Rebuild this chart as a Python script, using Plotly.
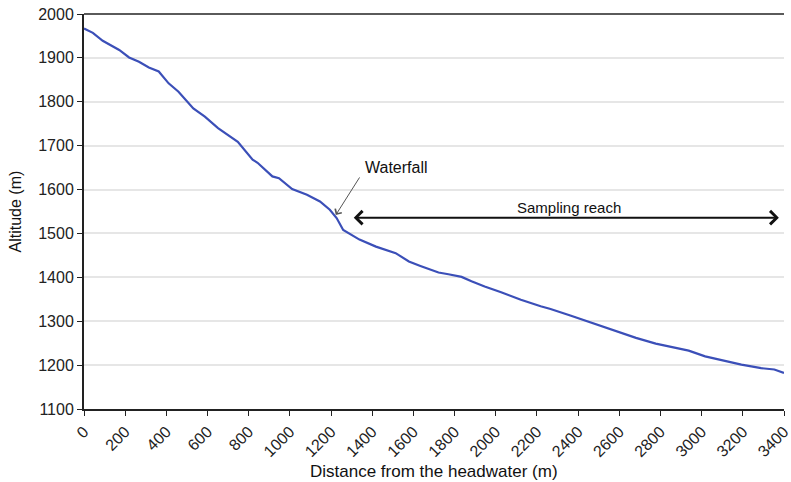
import plotly.graph_objects as go

distance = [0, 43, 91, 131, 171, 219, 267, 315, 363, 411, 459, 531, 587, 651, 747, 819, 843,
            915, 947, 1011, 1083, 1146, 1194, 1227, 1259, 1338, 1418, 1514, 1578, 1634, 1674,
            1722, 1770, 1834, 1882, 1946, 2026, 2122, 2218, 2266, 2362, 2426, 2489, 2585, 2681,
            2777, 2873, 2937, 3017, 3097, 3193, 3289, 3353, 3400]
altitude = [1967, 1957, 1939, 1929, 1918, 1901, 1891, 1878, 1869, 1842, 1823, 1785, 1766, 1740,
            1709, 1668, 1661, 1630, 1626, 1601, 1588, 1573, 1554, 1535, 1508, 1486, 1470, 1455,
            1436, 1426, 1419, 1411, 1407, 1401, 1391, 1379, 1366, 1349, 1334, 1328, 1313, 1303,
            1292, 1277, 1262, 1249, 1239, 1233, 1220, 1211, 1201, 1193, 1190, 1182]

x_ticks = list(range(0, 3401, 200))
y_ticks = list(range(1100, 2001, 100))

waterfall_label = "Waterfall"
reach_label = "Sampling reach"
x_title = "Distance from the headwater (m)"
y_title = "Altitude (m)"
waterfall_head = (1223, 1542)
waterfall_tail = (1343, 1631)
waterfall_text = (1518, 1650)
reach_start, reach_end, reach_alt = 1303, 3375, 1536
reach_text = (2355, 1559)

font_family = "Liberation Sans, Arial, sans-serif"

fig = go.Figure()
fig.add_trace(go.Scatter(x=distance, y=altitude, mode="lines",
                         line=dict(color="#3b4fb8", width=2.2), showlegend=False,
                         hoverinfo="skip"))

fig.add_annotation(x=waterfall_head[0], y=waterfall_head[1], ax=waterfall_tail[0],
                   ay=waterfall_tail[1], axref="x", ayref="y", xref="x", yref="y",
                   showarrow=True, arrowhead=4, arrowsize=1.5, arrowwidth=1,
                   arrowcolor="#555555", text="")
fig.add_annotation(x=waterfall_text[0], y=waterfall_text[1], text=waterfall_label,
                   showarrow=False, font=dict(size=16, color="#111111"))

fig.add_annotation(x=reach_end, y=reach_alt, ax=reach_start, ay=reach_alt,
                   axref="x", ayref="y", xref="x", yref="y", showarrow=True,
                   arrowhead=4, arrowside="end+start", arrowsize=1.3, arrowwidth=2,
                   arrowcolor="#111111", text="")
fig.add_annotation(x=reach_text[0], y=reach_text[1], text=reach_label,
                   showarrow=False, font=dict(size=15, color="#111111"))

fig.add_annotation(x=0.5, y=-0.128, xref="paper", yref="paper", yanchor="top",
                   text=x_title, showarrow=False, font=dict(size=17, color="#111111"))
fig.add_annotation(x=0, y=0.5, xref="paper", yref="paper", xanchor="center",
                   text=y_title, showarrow=False, textangle=-90,
                   font=dict(size=16, color="#111111"), xshift=-69)

fig.add_shape(type="line", xref="paper", yref="paper", x0=0, x1=1, y0=1, y1=1,
              line=dict(color="#5a5a5a", width=2))

fig.update_layout(
    width=791, height=482,
    margin=dict(l=84, r=7, t=14, b=73),
    paper_bgcolor="white", plot_bgcolor="white",
    font=dict(family=font_family, size=15, color="#222222"),
    xaxis=dict(range=[0, 3400], tickmode="array", tickvals=x_ticks,
               ticktext=[str(v) for v in x_ticks], tickangle=-45, automargin=False,
               ticklabeloverflow="allow",
               showgrid=False, zeroline=False, showline=True, linecolor="#222222",
               linewidth=2, ticks="outside", ticklen=5, tickcolor="#222222",
               tickfont=dict(size=16)),
    yaxis=dict(range=[1100, 2000], tickmode="array", tickvals=y_ticks,
               ticktext=[str(v) for v in y_ticks], automargin=False,
               ticklabeloverflow="allow",
               showgrid=True, gridcolor="#e6e6e6", gridwidth=1.5, zeroline=False,
               showline=True, linecolor="#222222", linewidth=2, ticks="outside",
               ticklen=5, tickcolor="#222222",
               tickfont=dict(size=16)),
)

fig.write_html("out.html", config={"displayModeBar": False},
               post_script="document.body.style.margin='0px';")
